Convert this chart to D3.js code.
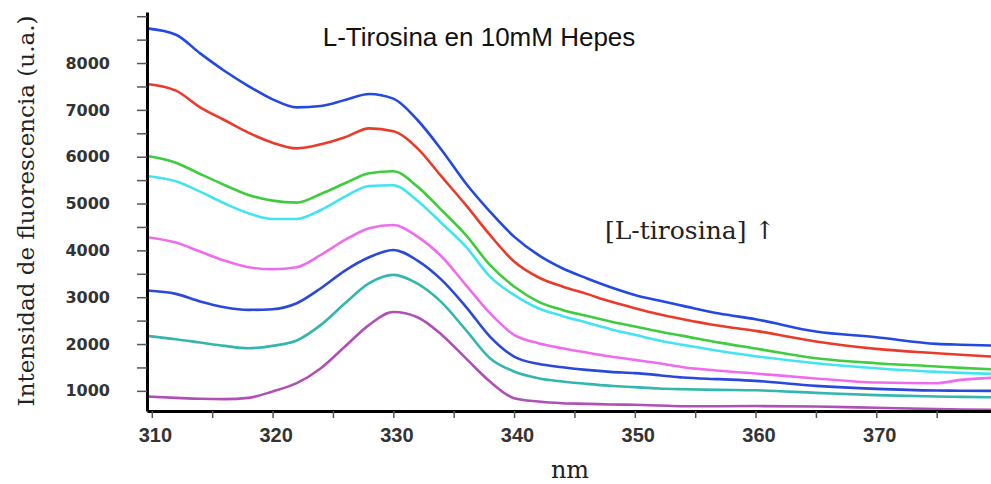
<!DOCTYPE html>
<html>
<head>
  <meta charset="utf-8">
  <title>L-Tirosina en 10mM Hepes</title>
  <script src="https://cdnjs.cloudflare.com/ajax/libs/d3/7.8.5/d3.min.js"></script>
  <style>
    body { margin: 0; background: #fff; }
    .line { fill: none; stroke-width: 2.6px; stroke-linejoin: round; }
    .axis .domain { stroke: #000; stroke-width: 3px; }
    .axis .tick line { stroke: #555; stroke-width: 1.5px; }
    .axis--y text { font-family: "DejaVu Sans"; font-weight: bold; font-size: 16px; fill: #333; }
    .axis--x text { font-family: "Liberation Sans"; font-weight: bold; font-size: 20px; fill: #333; }
  </style>
</head>
<body>
  <svg width="991" height="484"></svg>
<script>
// wavelength (nm) of each sample
var nm = [309.6, 312, 314, 316, 318, 320, 322, 324, 326, 328, 330, 332, 334, 336, 338,
          340, 342, 344, 346, 348, 350, 352, 354, 357, 360, 365, 370, 375, 377, 379.5];

// fluorescence intensity (u.a.), highest concentration first
var blue1   = [8740, 8605, 8206, 7836, 7509, 7225, 7054, 7083, 7210, 7339, 7240, 6784, 6144, 5432, 4828,
               4294, 3903, 3618, 3405, 3213, 3049, 2928, 2815, 2650, 2530, 2267, 2146, 2004, 1985, 1968];
var red     = [7552, 7410, 7054, 6784, 6513, 6300, 6179, 6264, 6414, 6606, 6545, 6179, 5574, 4970, 4330,
               3761, 3426, 3227, 3071, 2907, 2765, 2637, 2530, 2390, 2281, 2053, 1897, 1804, 1770, 1733];
var green   = [6015, 5873, 5631, 5397, 5183, 5062, 5020, 5205, 5432, 5646, 5690, 5361, 4860, 4330, 3689,
               3227, 2907, 2729, 2601, 2480, 2374, 2267, 2174, 2030, 1904, 1698, 1591, 1520, 1490, 1463];
var cyan    = [5589, 5475, 5254, 5005, 4792, 4671, 4671, 4863, 5148, 5375, 5390, 5060, 4580, 4081, 3441,
               3049, 2765, 2601, 2459, 2317, 2196, 2075, 1982, 1850, 1740, 1591, 1484, 1406, 1385, 1363];
var magenta = [4280, 4166, 3974, 3782, 3640, 3597, 3640, 3903, 4223, 4472, 4543, 4294, 3870, 3263, 2658,
               2196, 2018, 1911, 1819, 1733, 1662, 1591, 1506, 1430, 1370, 1264, 1178, 1164, 1235, 1278];
var blue2   = [3142, 3071, 2907, 2786, 2729, 2744, 2872, 3192, 3569, 3853, 4009, 3782, 3370, 2800, 2160,
               1733, 1577, 1506, 1449, 1406, 1378, 1335, 1285, 1250, 1214, 1107, 1043, 1008, 1004, 1000];
var teal    = [2174, 2103, 2032, 1961, 1911, 1961, 2075, 2409, 2871, 3298, 3476, 3290, 2890, 2302, 1698,
               1414, 1271, 1200, 1150, 1108, 1079, 1050, 1035, 1022, 1012, 958, 908, 880, 872, 865];
var purple  = [880, 851, 830, 823, 851, 987, 1164, 1484, 1947, 2409, 2683, 2573, 2200, 1698, 1200,
               844, 773, 737, 723, 709, 702, 688, 672, 672, 676, 666, 638, 609, 602, 595];

var series = [blue1, red, green, cyan, magenta, blue2, teal, purple];
var colors = ["#2448e2", "#ea3b2a", "#3fcc3f", "#42e4f0", "#ef6cee", "#2a48da", "#33b6ae", "#b04fb6"];

// axis ticks
var xTicks = [310, 315, 320, 325, 330, 335, 340, 345, 350, 355, 360, 365, 370, 375];
var xLabels = [310, 320, 330, 340, 350, 360, 370];
var yTicks = [1000, 1500, 2000, 2500, 3000, 3500, 4000, 4500, 5000, 5500, 6000, 6500, 7000, 7500, 8000, 8500, 9000];
var yLabels = [1000, 2000, 3000, 4000, 5000, 6000, 7000, 8000];

var title = "L-Tirosina en 10mM Hepes";
var note = "[L-tirosina] \u2191";
var xTitle = "nm";
var yTitle = "Intensidad de fluorescencia (u.a.)";

var svg = d3.select("svg");

var x = d3.scaleLinear()
    .domain([309.6, 379.5])
    .range([147, 991]);

var y = d3.scaleLinear()
    .domain([570, 9090])
    .range([411, 12]);

var line = d3.line()
    .x(function(d, i) { return x(nm[i]); })
    .y(function(d) { return y(d); })
    .curve(d3.curveMonotoneX);

svg.append("g")
    .selectAll("path")
    .data(series)
  .enter().append("path")
    .attr("class", "line")
    .attr("stroke", function(d, i) { return colors[i]; })
    .attr("d", line);

svg.append("g")
    .attr("class", "axis axis--x")
    .attr("transform", "translate(0," + y(570) + ")")
    .call(d3.axisBottom(x)
      .tickValues(xTicks)
      .tickSize(7)
      .tickSizeOuter(0)
      .tickPadding(10)
      .tickFormat(function(d) { return xLabels.indexOf(d) >= 0 ? d : ""; }));

svg.append("g")
    .attr("class", "axis axis--y")
    .attr("transform", "translate(" + x(309.6) + ",0)")
    .call(d3.axisLeft(y)
      .tickValues(yTicks)
      .tickSize(10)
      .tickSizeOuter(0)
      .tickPadding(27)
      .tickFormat(function(d) { return yLabels.indexOf(d) >= 0 ? d : ""; }));

svg.selectAll(".axis--x .tick text").attr("dx", 3);

svg.append("text")
    .attr("x", 479)
    .attr("y", 46)
    .attr("text-anchor", "middle")
    .style("font-family", "Liberation Sans")
    .style("font-size", "26px")
    .style("fill", "#111")
    .text(title);

svg.append("text")
    .attr("x", 605)
    .attr("y", 239)
    .style("font-family", "DejaVu Serif")
    .style("font-size", "25px")
    .style("fill", "#222")
    .text(note);

svg.append("text")
    .attr("x", 570)
    .attr("y", 478)
    .attr("text-anchor", "middle")
    .style("font-family", "DejaVu Serif")
    .style("font-size", "24px")
    .style("fill", "#222")
    .text(xTitle);

svg.append("text")
    .attr("transform", "translate(34,211) rotate(-90)")
    .attr("text-anchor", "middle")
    .style("font-family", "DejaVu Serif")
    .style("font-size", "23px")
    .style("fill", "#222")
    .text(yTitle);
</script>
</body>
</html>
